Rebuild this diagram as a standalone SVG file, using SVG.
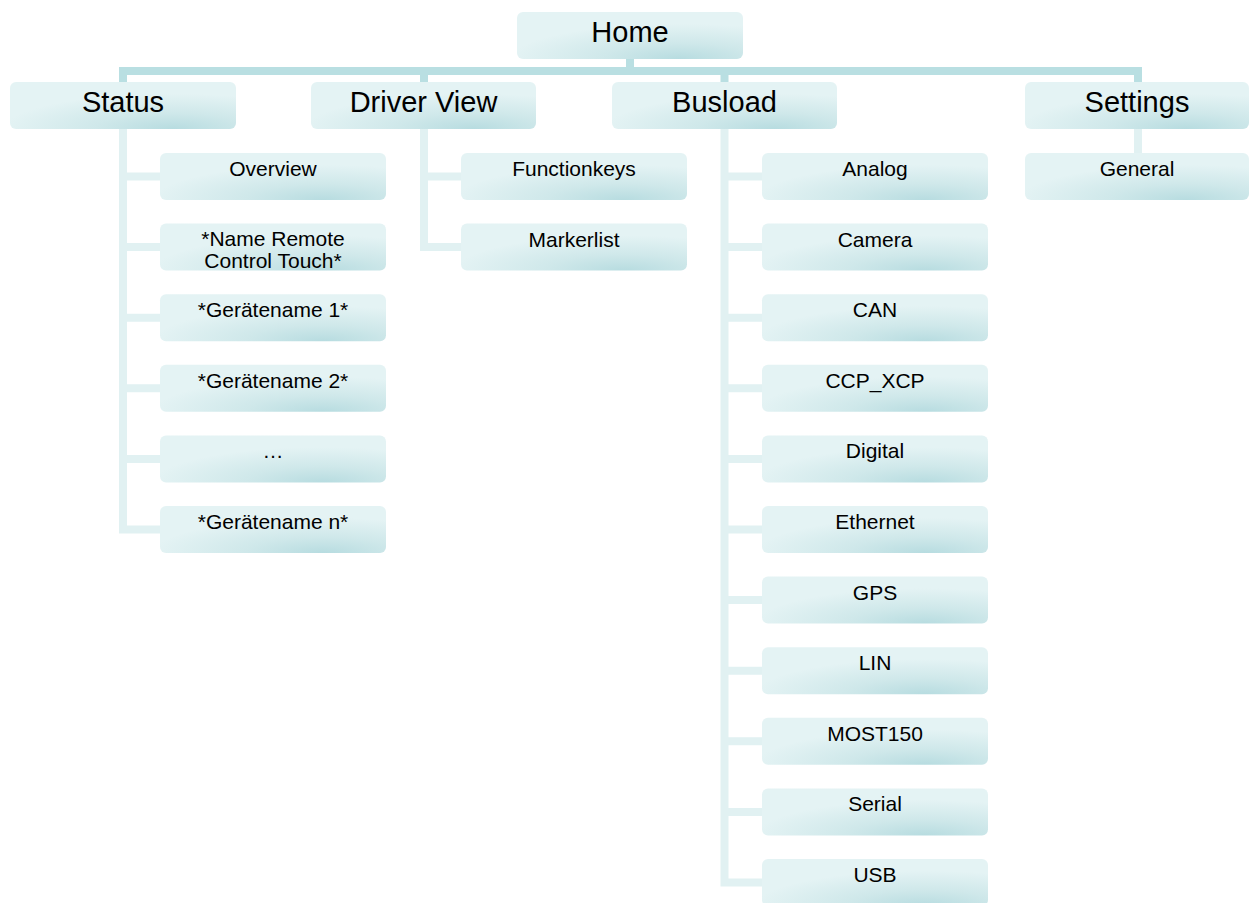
<svg xmlns="http://www.w3.org/2000/svg" width="1250" height="903" viewBox="0 0 1250 903">
<defs>
<radialGradient id="g" cx="0.72" cy="1" r="0.75" fx="0.72" fy="1">
<stop offset="0" stop-color="#b7dce0"/>
<stop offset="0.45" stop-color="#cfe8ea"/>
<stop offset="1" stop-color="#e4f3f4"/>
</radialGradient>
<clipPath id="clipName"><rect x="160" y="223.6" width="226" height="47"/></clipPath>
</defs>
<style>
.box{fill:url(#g);}
.t1{font-family:"Liberation Sans",Arial,sans-serif;font-size:29px;fill:#000;text-anchor:middle;}
.t2{font-family:"Liberation Sans",Arial,sans-serif;font-size:21px;fill:#000;text-anchor:middle;}
.bus{fill:none;stroke:#b9dfe2;stroke-width:8;}
.sub{fill:none;stroke:#e1f1f2;stroke-width:8;}
</style>
<rect width="1250" height="903" fill="#ffffff"/>
<g id="connectors">
<path class="bus" d="M630 59 V71 M123 71 H1138 M123 67 V82 M424 67 V82 M724.5 67 V82 M1138 67 V82"/>
<path class="sub" d="M123 129 V533.5 M123 176.5 H160 M123 247.1 H160 M123 317.7 H160 M123 388.3 H160 M123 458.9 H160 M119 529.5 H160"/>
<path class="sub" d="M424 129 V251.1 M424 176.5 H461 M420 247.1 H461"/>
<path class="sub" d="M724.5 129 V886.5 M724.5 176.5 H762 M724.5 247.1 H762 M724.5 317.7 H762 M724.5 388.3 H762 M724.5 458.9 H762 M724.5 529.5 H762 M724.5 600.1 H762 M724.5 670.7 H762 M724.5 741.3 H762 M724.5 811.9 H762 M720.5 882.5 H762"/>
<path class="sub" d="M1138 129 V153"/>
</g>
<g id="home"><rect class="box" x="517" y="12" width="226" height="47" rx="6"/><text class="t1" x="630" y="42">Home</text></g>
<g id="status"><rect class="box" x="10" y="82" width="226" height="47" rx="6"/><text class="t1" x="123" y="112">Status</text></g>
<g id="driverview"><rect class="box" x="311" y="82" width="225" height="47" rx="6"/><text class="t1" x="423.5" y="112">Driver View</text></g>
<g id="busload"><rect class="box" x="612" y="82" width="225" height="47" rx="6"/><text class="t1" x="724.5" y="112">Busload</text></g>
<g id="settings"><rect class="box" x="1025" y="82" width="224" height="47" rx="6"/><text class="t1" x="1137" y="112">Settings</text></g>

<g id="overview"><rect class="box" x="160" y="153" width="226" height="47" rx="6"/><text class="t2" x="273" y="176">Overview</text></g>
<g id="nameremote"><rect class="box" x="160" y="223.6" width="226" height="47" rx="6"/><text class="t2" x="273" clip-path="url(#clipName)"><tspan x="273" y="246">*Name Remote</tspan><tspan x="273" y="268">Control Touch*</tspan></text></g>
<g id="geraet1"><rect class="box" x="160" y="294.2" width="226" height="47" rx="6"/><text class="t2" x="273" y="317.2">*Gerätename 1*</text></g>
<g id="geraet2"><rect class="box" x="160" y="364.8" width="226" height="47" rx="6"/><text class="t2" x="273" y="387.8">*Gerätename 2*</text></g>
<g id="dots"><rect class="box" x="160" y="435.4" width="226" height="47" rx="6"/><text class="t2" x="273" y="458.4">…</text></g>
<g id="geraetn"><rect class="box" x="160" y="506" width="226" height="47" rx="6"/><text class="t2" x="273" y="529">*Gerätename n*</text></g>

<g id="functionkeys"><rect class="box" x="461" y="153" width="226" height="47" rx="6"/><text class="t2" x="574" y="176">Functionkeys</text></g>
<g id="markerlist"><rect class="box" x="461" y="223.6" width="226" height="47" rx="6"/><text class="t2" x="574" y="246.6">Markerlist</text></g>

<g id="analog"><rect class="box" x="762" y="153" width="226" height="47" rx="6"/><text class="t2" x="875" y="176">Analog</text></g>
<g id="camera"><rect class="box" x="762" y="223.6" width="226" height="47" rx="6"/><text class="t2" x="875" y="246.6">Camera</text></g>
<g id="can"><rect class="box" x="762" y="294.2" width="226" height="47" rx="6"/><text class="t2" x="875" y="317.2">CAN</text></g>
<g id="ccpxcp"><rect class="box" x="762" y="364.8" width="226" height="47" rx="6"/><text class="t2" x="875" y="387.8">CCP_XCP</text></g>
<g id="digital"><rect class="box" x="762" y="435.4" width="226" height="47" rx="6"/><text class="t2" x="875" y="458.4">Digital</text></g>
<g id="ethernet"><rect class="box" x="762" y="506" width="226" height="47" rx="6"/><text class="t2" x="875" y="529">Ethernet</text></g>
<g id="gps"><rect class="box" x="762" y="576.6" width="226" height="47" rx="6"/><text class="t2" x="875" y="599.6">GPS</text></g>
<g id="lin"><rect class="box" x="762" y="647.2" width="226" height="47" rx="6"/><text class="t2" x="875" y="670.2">LIN</text></g>
<g id="most150"><rect class="box" x="762" y="717.8" width="226" height="47" rx="6"/><text class="t2" x="875" y="740.8">MOST150</text></g>
<g id="serial"><rect class="box" x="762" y="788.4" width="226" height="47" rx="6"/><text class="t2" x="875" y="811.4">Serial</text></g>
<g id="usb"><rect class="box" x="762" y="859" width="226" height="47" rx="6"/><text class="t2" x="875" y="882">USB</text></g>

<g id="general"><rect class="box" x="1025" y="153" width="224" height="47" rx="6"/><text class="t2" x="1137" y="176">General</text></g>
</svg>
